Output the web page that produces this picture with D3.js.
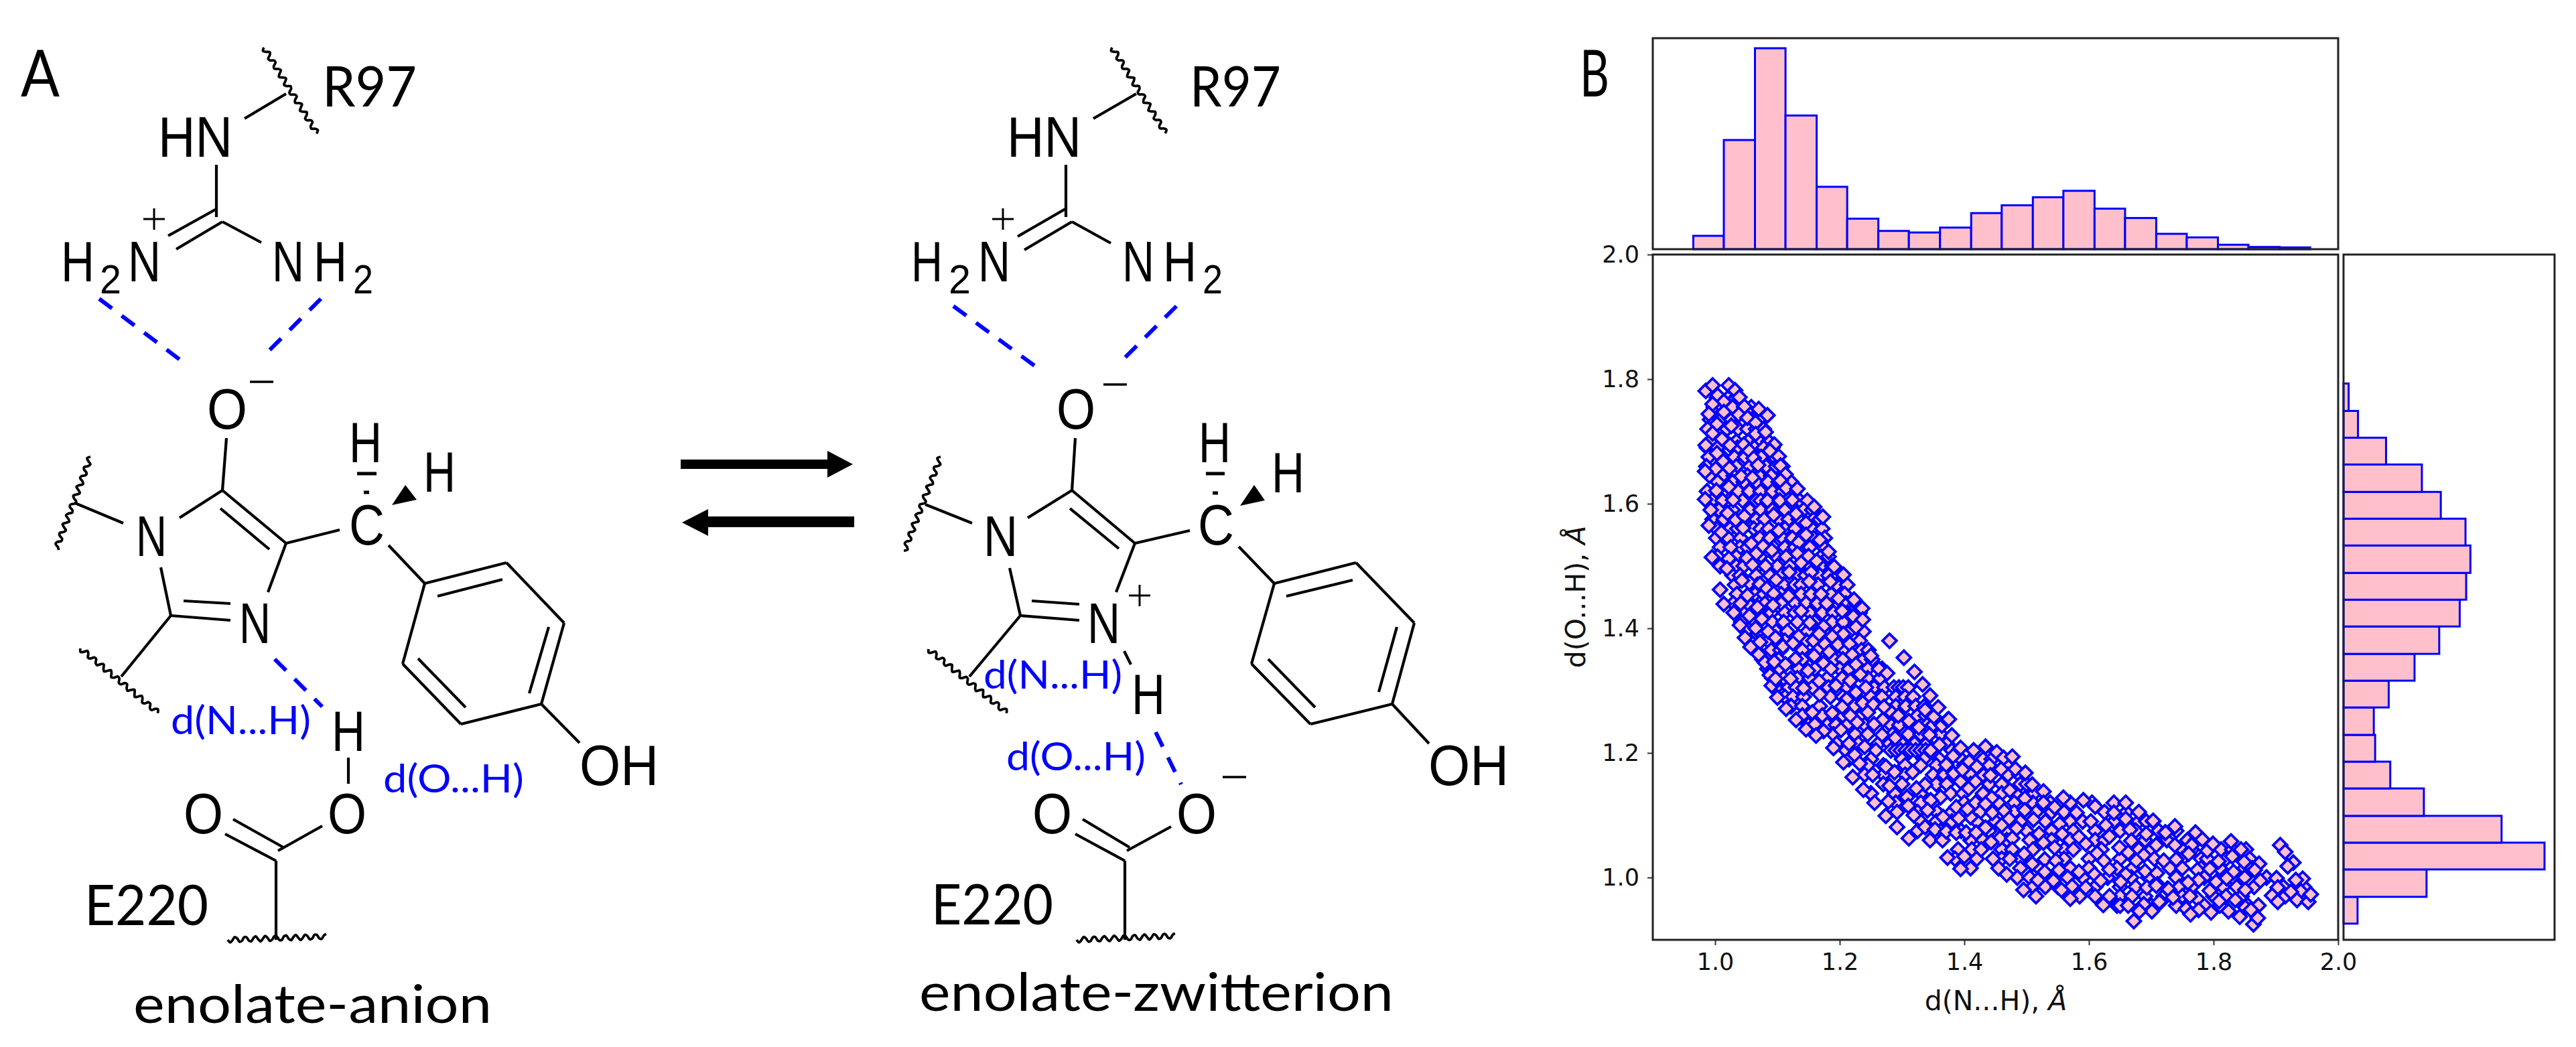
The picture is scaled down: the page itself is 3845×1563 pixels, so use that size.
<!DOCTYPE html>
<html>
<head>
<meta charset="utf-8">
<style>
html, body { margin: 0; padding: 0; background: #fff; }
svg { display: block; }
</style>
<script src="https://cdnjs.cloudflare.com/ajax/libs/d3/7.8.5/d3.min.js"></script>
</head>
<body>
<script>
// values
const topBinEdges = [0.965,1.014,1.064,1.113,1.163,1.212,1.262,1.311,1.361,1.411,1.46,1.51,1.559,1.609,1.658,1.708,1.757,1.807,1.856,1.906,1.955];
const topCounts = [60,490,902,600,280,137,82,75,97,162,197,233,262,182,140,69,53,20,10,8];
const rightBinEdges = [0.926,0.969,1.013,1.056,1.099,1.143,1.186,1.229,1.273,1.316,1.359,1.403,1.446,1.489,1.533,1.576,1.619,1.663,1.706,1.749,1.793];
const rightCounts = [63,373,903,710,361,210,142,136,203,319,430,522,551,570,548,437,352,191,65,23];
const axisTicks = [1.0,1.2,1.4,1.6,1.8,2.0];

// points hidden under the visible ones, one row per d(O...H) value: [y, x, x, ...]
const scatterRows = [
[1.77,1.003,1.021,1.033],
[1.755,0.998,1.012,1.028,1.047,1.058],
[1.735,0.992,1.009,1.026,1.044,1.059,1.071],
[1.72,0.988,1.006,1.019,1.037,1.052,1.066,1.078],
[1.70,0.992,1.017,1.034,1.053,1.071,1.086],
[1.69,0.987,1.004,1.036,1.063,1.078,1.092],
[1.675,0.99,1.012,1.031,1.048,1.074,1.095],
[1.66,0.986,1.006,1.034,1.056,1.082,1.098,1.108],
[1.645,0.991,1.012,1.03,1.052,1.071,1.09,1.112],
[1.635,1.004,1.028,1.046,1.066,1.085,1.102,1.122],
[1.62,0.987,1.014,1.037,1.055,1.073,1.092,1.108,1.128],
[1.605,0.995,1.012,1.044,1.066,1.073,1.084,1.104,1.136,1.148],
[1.59,1.006,1.028,1.056,1.073,1.092,1.112,1.142,1.156],
[1.575,0.996,1.014,1.048,1.066,1.079,1.102,1.118,1.134,1.158,1.168],
[1.56,1.002,1.024,1.036,1.062,1.073,1.086,1.112,1.128,1.156,1.172],
[1.545,1.002,1.021,1.041,1.072,1.088,1.108,1.124,1.14,1.158,1.176],
[1.53,1.008,1.04,1.052,1.094,1.112,1.128,1.152,1.174],
[1.515,1.004,1.034,1.072,1.098,1.114,1.142,1.17,1.182],
[1.50,1.008,1.034,1.046,1.068,1.1,1.12,1.146,1.17,1.188],
[1.485,1.028,1.04,1.066,1.088,1.106,1.132,1.145,1.168,1.182,1.198],
[1.47,1.032,1.068,1.11,1.128,1.138,1.165,1.195,1.212],
[1.455,1.035,1.064,1.078,1.106,1.138,1.154,1.186,1.208],
[1.44,1.029,1.052,1.08,1.106,1.128,1.146,1.164,1.192,1.21,1.226],
[1.425,1.045,1.07,1.09,1.112,1.128,1.152,1.172,1.19,1.212,1.232],
[1.41,1.042,1.064,1.092,1.11,1.132,1.16,1.188,1.206,1.226],
[1.395,1.05,1.07,1.098,1.116,1.148,1.175,1.196,1.216,1.238],
[1.38,1.056,1.085,1.112,1.146,1.158,1.185,1.205,1.232],
[1.365,1.066,1.09,1.105,1.14,1.165,1.19,1.208,1.235,1.246],
[1.35,1.076,1.102,1.14,1.162,1.192,1.205,1.238,1.252],
[1.335,1.084,1.104,1.134,1.16,1.2,1.215,1.245,1.268],
[1.32,1.092,1.11,1.132,1.152,1.18,1.204,1.245,1.265],
[1.305,1.098,1.118,1.13,1.156,1.182,1.21,1.255,1.272,1.287,1.295,1.302,1.31],
[1.29,1.112,1.125,1.142,1.185,1.205,1.25,1.268,1.29,1.305,1.318],
[1.275,1.122,1.14,1.168,1.224,1.29,1.306,1.322,1.336],
[1.26,1.14,1.172,1.205,1.235,1.282,1.325,1.338],
[1.245,1.15,1.18,1.194,1.212,1.24,1.282,1.296,1.314,1.34,1.35],
[1.23,1.19,1.225,1.245,1.285,1.31,1.33,1.362],
[1.215,1.195,1.23,1.262,1.28,1.3,1.32,1.34,1.372],
[1.204,1.21,1.258,1.282,1.29,1.298,1.306,1.314,1.322,1.33,1.338,1.346,1.38,1.415],
[1.19,1.215,1.25,1.3,1.335,1.36,1.395,1.43,1.444],
[1.18,1.245,1.27,1.305,1.33,1.355,1.4,1.44,1.468],
[1.165,1.24,1.27,1.305,1.35,1.368,1.41,1.43,1.47,1.488],
[1.15,1.27,1.3,1.355,1.372,1.41,1.44,1.46,1.49,1.5],
[1.135,1.25,1.288,1.33,1.378,1.398,1.43,1.46,1.482,1.512],
[1.12,1.29,1.33,1.35,1.4,1.418,1.455,1.48,1.51,1.538,1.57,1.605,1.64],
[1.105,1.292,1.325,1.356,1.38,1.425,1.48,1.515,1.54,1.56,1.625,1.66],
[1.09,1.33,1.355,1.38,1.42,1.45,1.49,1.53,1.57,1.59,1.64,1.68,1.692],
[1.075,1.325,1.362,1.395,1.44,1.468,1.5,1.54,1.575,1.61,1.65,1.675,1.712,1.74],
[1.06,1.345,1.365,1.41,1.43,1.468,1.505,1.54,1.57,1.61,1.625,1.69,1.725,1.758,1.772],
[1.045,1.39,1.412,1.46,1.51,1.56,1.575,1.62,1.68,1.7,1.75,1.765,1.812,1.83,1.852],
[1.03,1.385,1.42,1.46,1.49,1.56,1.6,1.65,1.705,1.75,1.78,1.79,1.82,1.858],
[1.015,1.41,1.455,1.49,1.52,1.57,1.6,1.645,1.67,1.73,1.75,1.78,1.81,1.85,1.862],
[1.00,1.485,1.505,1.53,1.59,1.63,1.668,1.695,1.74,1.785,1.83,1.85,1.885],
[0.985,1.51,1.53,1.55,1.61,1.65,1.675,1.745,1.765,1.815,1.865,1.912,1.945],
[0.97,1.515,1.585,1.61,1.65,1.69,1.72,1.75,1.8,1.82,1.845,1.915],
[0.955,1.645,1.65,1.7,1.74,1.785,1.81,1.855,1.872]
];

const scatterPoints = [
// upper arm
[0.985,1.781],[0.996,1.790],[1.022,1.790],[1.004,1.774],[1.032,1.782],[1.039,1.771],[1.014,1.764],[0.996,1.760],[1.047,1.756],[1.070,1.752],
[1.084,1.742],[0.990,1.744],[1.014,1.747],[1.038,1.743],[1.052,1.738],[1.065,1.730],[1.003,1.728],[1.026,1.725],[1.065,1.712],[0.996,1.713],
[1.011,1.704],[1.024,1.694],[1.046,1.695],[1.081,1.715],[1.095,1.695],[1.088,1.685],[1.055,1.685],[0.985,1.694],[1.003,1.681],[1.102,1.676],
[1.062,1.673],[1.105,1.661],[1.069,1.662],[1.013,1.668],[1.023,1.657],[1.001,1.656],[0.984,1.652],[1.042,1.644],[1.113,1.647],[1.105,1.637],
[1.060,1.642],[1.022,1.627],[1.114,1.625],[1.132,1.624],[1.002,1.621],[0.984,1.607],[1.029,1.606],[1.124,1.606],[1.159,1.595],[0.993,1.590],
[1.020,1.585],[1.033,1.574],[1.047,1.580],[1.094,1.582],[1.130,1.584],[1.173,1.579],[1.146,1.569],[0.990,1.565],[1.045,1.561],[1.010,1.554],
[1.102,1.557],[1.146,1.550],[1.168,1.542],[1.025,1.530],[1.058,1.536],[1.077,1.532],[1.091,1.525],[1.134,1.538],[1.182,1.523],[1.066,1.520],
[1.132,1.520],[0.995,1.514],[1.051,1.513],[1.150,1.516],[1.022,1.512],[1.163,1.508],[1.138,1.505],[1.060,1.502],[1.081,1.500],[1.019,1.496],
[1.191,1.499],[1.119,1.490],[1.154,1.490],[1.206,1.486],[1.055,1.473],[1.098,1.478],[1.043,1.477],[1.151,1.475],[1.185,1.475],[1.072,1.471],
[1.083,1.464],[1.008,1.462],[1.170,1.455],[1.118,1.452],[1.094,1.456],[1.052,1.453],[1.198,1.448],[1.223,1.446],[1.041,1.440],[1.014,1.439],
[1.179,1.440],[1.093,1.437],[1.068,1.434],[1.236,1.432],
// left side, 1.43 down to 1.31
[1.030,1.425],[1.055,1.420],[1.075,1.415],[1.040,1.405],[1.065,1.400],[1.085,1.395],[1.048,1.385],[1.072,1.378],[1.057,1.370],[1.070,1.358],
[1.080,1.345],[1.088,1.325],[1.091,1.308],
// middle of the band
[1.138,1.428],[1.222,1.419],[1.237,1.414],[1.152,1.409],[1.226,1.402],[1.174,1.403],[1.204,1.428],[1.206,1.391],[1.188,1.387],[1.097,1.385],
[1.134,1.387],[1.167,1.391],[1.109,1.371],[1.125,1.376],[1.176,1.375],[1.197,1.374],[1.216,1.375],[1.159,1.356],[1.129,1.351],[1.183,1.362],
[1.220,1.358],[1.250,1.356],[1.095,1.346],[1.113,1.342],[1.174,1.344],[1.226,1.342],[1.149,1.332],[1.186,1.335],[1.263,1.335],[1.276,1.328],
[1.233,1.326],[1.121,1.319],[1.167,1.315],[1.217,1.316],[1.097,1.319],[1.194,1.308],[1.142,1.304],[1.242,1.305],[1.226,1.297],[1.168,1.294],
[1.211,1.286],[1.237,1.280],[1.254,1.278],[1.188,1.264],[1.204,1.274],[1.156,1.265],[1.245,1.265],[1.217,1.260],[1.281,1.267],[1.271,1.274],
[1.294,1.260],[1.311,1.251],[1.269,1.253],[1.337,1.269],[1.351,1.258],[1.228,1.249],[1.255,1.246],[1.160,1.246],[1.364,1.244],[1.327,1.241],
[1.202,1.237],[1.174,1.235],[1.268,1.229],[1.344,1.229],[1.215,1.215],[1.289,1.224],[1.360,1.213],[1.240,1.210],[1.224,1.197],[1.382,1.195],
[1.408,1.186],[1.371,1.181],[1.421,1.177],[1.274,1.178],[1.317,1.169],[1.232,1.183],[1.288,1.169],[1.383,1.167],[1.337,1.149],[1.394,1.154],
[1.280,1.147],[1.253,1.165],[1.407,1.143],[1.323,1.143],[1.362,1.129],[1.308,1.129],[1.278,1.122],[1.346,1.124],[1.387,1.113],[1.310,1.115],
[1.410,1.097],[1.341,1.108],[1.319,1.100],[1.366,1.097],[1.391,1.095],[1.337,1.081],[1.353,1.077],[1.371,1.074],[1.387,1.072],[1.403,1.072],
// isolated edges
[1.280,1.380],[1.303,1.353],[1.320,1.330],[1.333,1.310],[1.345,1.292],[1.358,1.273],[1.373,1.253],[1.380,1.228],[1.394,1.208],
[1.100,1.289],[1.114,1.271],[1.130,1.253],[1.146,1.238],[1.162,1.228],[1.190,1.208],[1.206,1.185],[1.221,1.161],[1.238,1.141],[1.256,1.120],
[1.274,1.099],[1.292,1.081],[1.311,1.063],
// lower arm
[1.375,1.254],[1.434,1.210],[1.452,1.201],[1.463,1.192],[1.477,1.194],[1.420,1.178],[1.459,1.174],[1.482,1.174],[1.498,1.168],[1.397,1.173],
[1.442,1.164],[1.509,1.149],[1.418,1.154],[1.473,1.140],[1.527,1.138],[1.559,1.128],[1.497,1.127],[1.444,1.128],[1.434,1.118],[1.591,1.124],
[1.610,1.114],[1.659,1.120],[1.527,1.120],[1.545,1.113],[1.405,1.110],[1.580,1.104],[1.680,1.105],[1.640,1.104],[1.445,1.104],[1.464,1.107],
[1.497,1.108],[1.472,1.094],[1.511,1.093],[1.553,1.086],[1.603,1.090],[1.659,1.094],[1.703,1.090],[1.627,1.084],[1.460,1.084],[1.434,1.080],
[1.484,1.079],[1.666,1.077],[1.722,1.072],[1.419,1.072],[1.520,1.070],[1.557,1.070],[1.692,1.070],[1.633,1.066],[1.457,1.063],[1.584,1.065],
[1.477,1.063],[1.443,1.057],[1.527,1.056],[1.710,1.054],[1.668,1.059],[1.595,1.054],[1.649,1.048],[1.427,1.045],[1.477,1.045],[1.545,1.048],
[1.663,1.040],[1.496,1.038],[1.400,1.034],[1.613,1.039],[1.688,1.036],[1.373,1.032],[1.446,1.030],[1.473,1.030],[1.529,1.029],[1.547,1.027],
[1.624,1.027],[1.720,1.027],[1.676,1.027],[1.509,1.022],[1.394,1.014],[1.633,1.013],[1.584,1.009],[1.690,1.010],[1.659,1.005],[1.468,1.005],
[1.552,1.012],[1.529,1.009],[1.609,1.005],[1.709,1.007],[1.566,1.000],[1.543,0.995],[1.518,0.996],[1.619,0.995],[1.651,0.993],[1.573,0.986],
[1.595,0.984],[1.693,0.984],[1.726,0.982],[1.710,0.989],[1.495,0.980],[1.669,0.970],[1.556,0.980],[1.633,0.970],[1.570,0.966],[1.623,0.956],
[1.663,0.955],[1.688,0.957],[1.701,0.946],[1.681,0.946],[1.672,0.930],[1.715,0.961],
// right tail
[1.703,1.091],[1.723,1.072],[1.738,1.082],[1.771,1.072],[1.782,1.061],[1.828,1.058],[1.738,1.052],[1.708,1.052],[1.790,1.043],[1.844,1.045],
[1.765,1.052],[1.799,1.054],[1.760,1.038],[1.830,1.034],[1.740,1.029],[1.808,1.026],[1.849,1.025],[1.873,1.022],[1.866,1.012],[1.774,1.012],
[1.794,1.014],[1.832,1.009],[1.821,0.999],[1.875,0.995],[1.901,0.999],[1.776,0.996],[1.759,0.992],[1.804,0.993],[1.708,0.987],[1.837,0.985],
[1.903,0.984],[1.728,0.981],[1.851,0.980],[1.794,0.979],[1.894,0.971],[1.940,0.978],[1.924,0.977],[1.774,0.966],[1.762,0.970],[1.735,0.968],
[1.809,0.962],[1.713,0.961],[1.851,0.952],[1.835,0.964],[1.934,0.964],[1.952,0.961],[1.956,0.973],[1.903,0.961],[1.756,0.950],[1.776,0.948],
[1.824,0.946],[1.796,0.944],[1.842,0.937],[1.763,0.941],[1.864,0.925],[1.871,0.935],[1.860,0.948],
[1.907,1.052],[1.915,1.041],[1.928,1.024],[1.919,1.018],[1.943,0.998],[1.932,0.996]
];

const width = 3845, height = 1563;
const BLUE = "#0000ff", PINK = "#ffc0cb", INK = "#000";

const svg = d3.select("body").append("svg")
    .attr("width", width)
    .attr("height", height)
    .attr("viewBox", [0, 0, width, height]);
svg.append("rect").attr("width", width).attr("height", height).attr("fill", "#fff");

// ---------- panel B ----------
const x = d3.scaleLinear().domain([0.9, 2.0]).range([2467, 3490]);
const y = d3.scaleLinear().domain([0.9, 2.0]).range([1403, 380]);
const topY = d3.scaleLinear().domain([0, d3.max(topCounts) * 1.05]).range([372, 57]);
const rightX = d3.scaleLinear().domain([0, d3.max(rightCounts) * 1.05]).range([3498, 3813]);

const fmt = d3.format(".1f");
const xAxis = svg.append("g")
    .attr("transform", "translate(0," + y.range()[0] + ")")
    .call(d3.axisBottom(x).tickValues(axisTicks).tickFormat(fmt).tickSize(8).tickPadding(12));
const yAxis = svg.append("g")
    .attr("transform", "translate(" + x.range()[0] + ",0)")
    .call(d3.axisLeft(y).tickValues(axisTicks).tickFormat(fmt).tickSize(8).tickPadding(12));
[xAxis, yAxis].forEach(function(a) {
    a.select(".domain").remove();
    a.selectAll("text").attr("font-family", "DejaVu Sans").attr("font-size", 35).attr("fill", "#111");
    a.selectAll("line").attr("stroke", "#333").attr("stroke-width", 2);
});

// top histogram
svg.append("g").selectAll("rect")
    .data(topCounts)
    .join("rect")
    .attr("x", (d, i) => x(topBinEdges[i]))
    .attr("width", (d, i) => x(topBinEdges[i + 1]) - x(topBinEdges[i]))
    .attr("y", d => topY(d))
    .attr("height", d => topY(0) - topY(d))
    .attr("fill", PINK)
    .attr("stroke", BLUE)
    .attr("stroke-width", 3);

// right histogram
svg.append("g").selectAll("rect")
    .data(rightCounts)
    .join("rect")
    .attr("x", rightX(0))
    .attr("width", d => rightX(d) - rightX(0))
    .attr("y", (d, i) => y(rightBinEdges[i + 1]))
    .attr("height", (d, i) => y(rightBinEdges[i]) - y(rightBinEdges[i + 1]))
    .attr("fill", PINK)
    .attr("stroke", BLUE)
    .attr("stroke-width", 3);

// scatter, squares turned by 45 degrees. hidden rows first, visible ones on top
const hiddenPoints = scatterRows.flatMap(r => r.slice(1).map(v => [v, r[0]]));
const diamond = d3.symbol().type(d3.symbolSquare).size(220);
svg.append("g").selectAll("path")
    .data(hiddenPoints.concat(scatterPoints))
    .join("path")
    .attr("d", diamond)
    .attr("transform", d => "translate(" + x(d[0]) + "," + y(d[1]) + ") rotate(45)")
    .attr("fill", PINK)
    .attr("stroke", BLUE)
    .attr("stroke-width", 3.8);

// frames
function frame(x0, y0, x1, y1) {
    svg.append("rect")
        .attr("x", x0).attr("y", y0)
        .attr("width", x1 - x0).attr("height", y1 - y0)
        .attr("fill", "none")
        .attr("stroke", "#222")
        .attr("stroke-width", 3);
}
frame(x.range()[0], topY.range()[1], x.range()[1], topY.range()[0]);
frame(x.range()[0], y.range()[1], x.range()[1], y.range()[0]);
frame(rightX.range()[0], y.range()[1], rightX.range()[1], y.range()[0]);

function axisLabel(txt, tx, ty, angle) {
    const t = svg.append("text")
        .attr("transform", "translate(" + tx + "," + ty + ") rotate(" + angle + ")")
        .attr("text-anchor", "middle")
        .attr("font-family", "DejaVu Sans")
        .attr("font-size", 41)
        .attr("fill", "#111");
    t.append("tspan").text(txt + ", ");
    t.append("tspan").attr("font-style", "italic").text("Å");
}
axisLabel("d(N...H)", 2979, 1508, 0);
axisLabel("d(O...H)", 2366, 891, -90);

// ---------- panel A: structures ----------
const CAL = "Lato", ARIAL = "Liberation Sans";

function label(txt, x0, x1, base, size, family, color) {
    svg.append("text")
        .attr("x", x0).attr("y", base)
        .attr("textLength", x1 - x0)
        .attr("lengthAdjust", "spacingAndGlyphs")
        .attr("font-family", family || ARIAL)
        .attr("font-size", size || 86)
        .attr("fill", color || INK)
        .text(txt);
}
function lines(list, w) {
    svg.append("g").selectAll("line")
        .data(list)
        .join("line")
        .attr("x1", d => d[0]).attr("y1", d => d[1])
        .attr("x2", d => d[2]).attr("y2", d => d[3])
        .attr("stroke", INK)
        .attr("stroke-width", w || 4.2);
}
function dashed(a, b, c, d) {
    svg.append("line")
        .attr("x1", a).attr("y1", b).attr("x2", c).attr("y2", d)
        .attr("stroke", BLUE)
        .attr("stroke-width", 6)
        .attr("stroke-dasharray", "24 18");
}
// wiggly cut mark for a side chain
function wavy(a, b, c, d) {
    const len = Math.hypot(c - a, d - b), ux = (c - a) / len, uy = (d - b) / len;
    const pts = d3.range(0, len + 0.5, 3.5).map(function(s) {
        const off = 4 * Math.sin(s / 15 * 2 * Math.PI);
        return [a + ux * s - uy * off, b + uy * s + ux * off];
    });
    svg.append("path")
        .attr("d", d3.line().curve(d3.curveCatmullRom)(pts))
        .attr("fill", "none")
        .attr("stroke", INK)
        .attr("stroke-width", 3.8);
}
function plus(cx, cy) { lines([[cx - 16, cy, cx + 16, cy], [cx, cy - 16, cx, cy + 16]], 3); }
function minus(x0, x1, cy) { lines([[x0, cy, x1, cy]], 3.5); }

label("A", 31, 89, 144, 96, CAL);
label("B", 2358, 2402, 144, 96, CAL);

// enolate-anion
wavy(394, 71, 473, 199);
wavy(135, 682, 83, 822);
wavy(120, 968, 236, 1064);
wavy(340, 1403, 488, 1398);
lines([
    [365,177,427,140],[323,246,323,324],[323,312,251,352],[332,331,263,372],[332,331,390,362],
    [338,654,332,732],[332,732,268,773],[332,732,427,811],[329,759,402,820],[427,811,507,791],
    [427,811,400,884],[240,847,255,919],[255,919,344,926],[274,897,344,901],[255,919,181,1010],
    [184,781,112,751],[580,814,634,871],[634,871,756,840],[756,840,842,930],[842,930,808,1051],
    [808,1051,688,1081],[688,1081,601,991],[601,991,634,871],[653,890,750,865],[819,936,790,1035],
    [624,983,695,1056],[808,1051,865,1109],[520,1131,520,1170],[348,1223,423,1265],[336,1245,412,1285],
    [481,1233,415,1270],[412,1285,412,1403]
]);
lines([[533,707,562,707]], 5);
lines([[543,735,551,735]], 5);
svg.append("path").attr("d", "M585,754L605,724L622,746Z").attr("fill", INK);
dashed(148, 446, 274, 541);
dashed(479, 446, 400, 525);
dashed(410, 984, 481, 1055);
label("R97", 481, 622, 159, 83, CAL);
label("HN", 236, 347, 234);
label("H", 91, 141, 420);
label("2", 149, 181, 438, 62);
label("N", 191, 240, 420);
plus(230, 327);
label("N", 406, 454, 420);
label("H", 468, 518, 420);
label("2", 527, 557, 438, 62);
label("O", 309, 369, 640);
minus(373, 408, 570);
label("N", 203, 249, 830);
label("C", 521, 574, 813);
label("H", 521, 570, 690);
label("H", 632, 680, 734);
label("N", 357, 404, 960);
label("OH", 865, 983, 1172);
label("H", 495, 545, 1121);
label("O", 489, 547, 1244);
label("O", 274, 333, 1244);
label("d(N...H)", 255, 464, 1096, 58, CAL, BLUE);
label("d(O...H)", 572, 782, 1183, 58, CAL, BLUE);
label("E220", 126, 311, 1381, 83, CAL);
label("enolate-anion", 199, 734, 1527, 80, CAL);

// equilibrium arrows
svg.append("path").attr("d", "M1016,686H1235V673L1273,693L1235,713V700H1016Z").attr("fill", INK);
svg.append("path").attr("d", "M1275,771H1057V760L1018,780L1057,800V787H1275Z").attr("fill", INK);

// enolate-zwitterion
wavy(1660, 71, 1740, 199);
wavy(1404, 682, 1350, 822);
wavy(1386, 969, 1504, 1065);
wavy(1607, 1403, 1756, 1397);
lines([
    [1632,177,1696,140],[1591,246,1591,324],[1590,312,1519,353],[1600,331,1529,373],[1600,331,1658,363],
    [1605,654,1600,732],[1600,732,1534,773],[1600,732,1694,811],[1597,759,1670,819],[1694,811,1776,792],
    [1694,811,1666,884],[1507,848,1523,919],[1523,919,1611,926],[1540,897,1611,902],[1523,919,1447,1010],
    [1451,781,1381,753],[1849,816,1902,871],[1902,871,2024,840],[2024,840,2111,930],[2111,930,2078,1051],
    [2078,1051,1956,1081],[1956,1081,1868,991],[1868,991,1902,871],[1920,890,2019,866],[2085,936,2058,1033],
    [1893,984,1963,1056],[2078,1051,2133,1110],[1678,972,1688,992],[1616,1223,1686,1265],[1605,1245,1679,1285],
    [1748,1234,1682,1270],[1679,1285,1679,1403]
]);
lines([[1800,707,1828,707]], 5);
lines([[1810,736,1818,736]], 5);
svg.append("path").attr("d", "M1851,755L1872,724L1888,747Z").attr("fill", INK);
dashed(1423, 457, 1547, 548);
dashed(1756, 457, 1678, 535);
dashed(1725, 1093, 1763, 1171);
label("R97", 1776, 1912, 159, 83, CAL);
label("HN", 1503, 1614, 234);
label("H", 1360, 1407, 420);
label("2", 1416, 1449, 438, 62);
label("N", 1460, 1508, 420);
plus(1497, 327);
label("N", 1675, 1723, 420);
label("H", 1736, 1786, 420);
label("2", 1795, 1825, 438, 62);
label("O", 1577, 1635, 640);
minus(1647, 1682, 574);
label("N", 1468, 1519, 830);
label("C", 1788, 1842, 813);
label("H", 1789, 1837, 690);
label("H", 1898, 1947, 735);
label("N", 1623, 1672, 960);
plus(1701, 889);
label("OH", 2132, 2252, 1172);
label("H", 1689, 1739, 1066);
label("O", 1756, 1816, 1244);
label("O", 1541, 1600, 1244);
minus(1825, 1860, 1160);
label("d(N...H)", 1468, 1675, 1028, 58, CAL, BLUE);
label("d(O...H)", 1502, 1710, 1150, 58, CAL, BLUE);
label("E220", 1390, 1572, 1380, 83, CAL);
label("enolate-zwitterion", 1372, 2080, 1509, 80, CAL);
</script>
</body>
</html>
